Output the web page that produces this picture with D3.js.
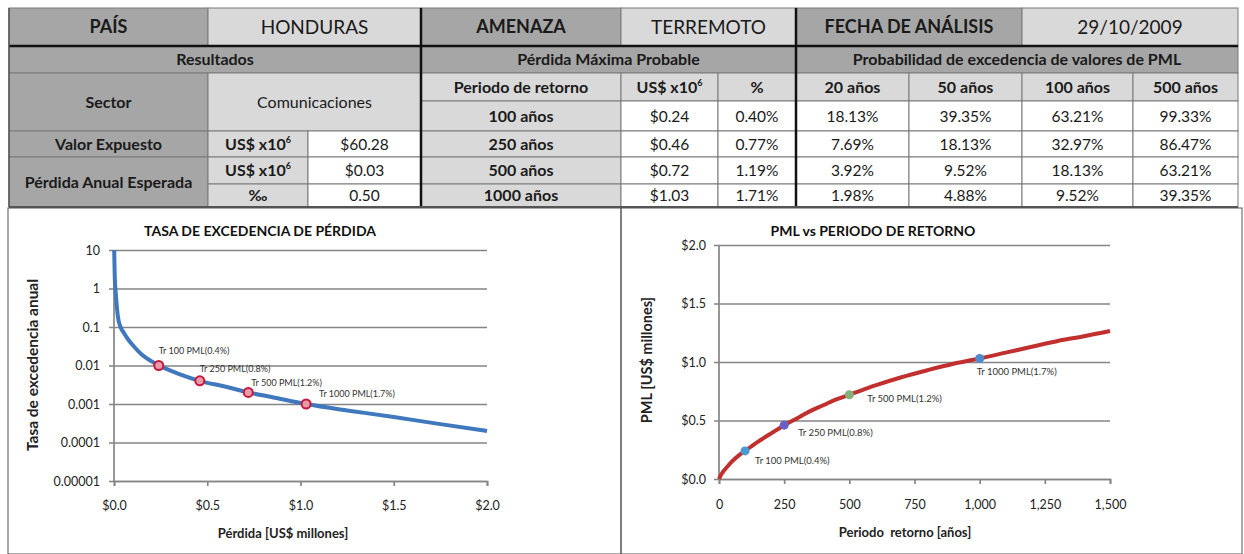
<!DOCTYPE html>
<html>
<head>
<meta charset="utf-8">
<script src="https://cdn.jsdelivr.net/npm/d3@7"></script>
<style>
  html, body { margin: 0; padding: 0; background: #fff; }
  svg { display: block; font-family: Lato, "Open Sans", sans-serif; }
</style>
</head>
<body>
<svg id="chart" width="1244" height="554"></svg>
<script>
// ---------------- DATA ----------------
const country = "HONDURAS";
const hazard = "TERREMOTO";
const analysisDate = "29/10/2009";
const sector = "Comunicaciones";
const exposedValue = "$60.28";
const expectedLoss = "$0.03";
const expectedLossPerMil = "0.50";

const returnPeriods = [100, 250, 500, 1000];
const pmlValues = [0.24, 0.46, 0.72, 1.03];
const pmlPercent = ["0.40%", "0.77%", "1.19%", "1.71%"];
const probYears = [20, 50, 100, 500];
const probMatrix = [
  ["18.13%", "39.35%", "63.21%", "99.33%"],
  ["7.69%", "18.13%", "32.97%", "86.47%"],
  ["3.92%", "9.52%", "18.13%", "63.21%"],
  ["1.98%", "4.88%", "9.52%", "39.35%"]
];

// loss exceedance curve: loss (US$ millions) vs annual exceedance rate
const lecLoss = [0.001, 0.004, 0.01, 0.02, 0.035, 0.05, 0.075, 0.1, 0.15, 0.2, 0.24, 0.3, 0.35, 0.46, 0.6, 0.72, 0.85, 1.03, 1.25, 1.5, 1.75, 2.0];
const lecRate = [10, 2, 0.7, 0.2, 0.1, 0.074, 0.048, 0.034, 0.019, 0.013, 0.01, 0.0075, 0.006, 0.004, 0.0028, 0.002, 0.0015, 0.001, 0.00068, 0.00046, 0.0003, 0.0002];
const lecMarkRate = [0.01, 0.004, 0.002, 0.001];
const markLabels = ["Tr 100 PML(0.4%)", "Tr 250 PML(0.8%)", "Tr 500 PML(1.2%)", "Tr 1000 PML(1.7%)"];

// PML vs return period curve
const curveT = [0, 5, 15, 30, 50, 75, 100, 150, 200, 250, 300, 350, 400, 450, 500, 600, 700, 800, 900, 1000, 1100, 1200, 1300, 1400, 1500];
const curvePML = [0, 0.025, 0.06, 0.1, 0.15, 0.2, 0.24, 0.32, 0.39, 0.46, 0.52, 0.58, 0.63, 0.68, 0.72, 0.80, 0.87, 0.93, 0.985, 1.03, 1.08, 1.13, 1.18, 1.22, 1.265];

const lossTicks = [0, 0.5, 1.0, 1.5, 2.0];
const rateTicks = [10, 1, 0.1, 0.01, 0.001, 0.0001, 0.00001];
const rateTickLabels = ["10", "1", "0.1", "0.01", "0.001", "0.0001", "0.00001"];
const periodTicks = [0, 250, 500, 750, 1000, 1250, 1500];
const pmlTicks = [0, 0.5, 1.0, 1.5, 2.0];

// ---------------- STYLE / LAYOUT ----------------
const DARK = "#a6a6a6", LIGHT = "#d9d9d9", WHITE = "#ffffff";
const markerColors = ["#4a9ad6", "#6660c8", "#86b07a", "#4d8ad0"];
const colX = [9, 208, 308, 421, 621, 718, 796, 909, 1022, 1133, 1238];
const rowY = [8, 46, 73, 101, 131, 157, 184, 207];
const BOLD_SIZE = 16, NORMAL_SIZE = 15.5;

const svg = d3.select("#chart");

// ---------------- TABLE ----------------
const cells = [];
function cell(c0, c1, r0, r1, text, fill, bold, size, sup) {
  cells.push({c0, c1, r0, r1, text, fill, bold, size: size || (bold ? BOLD_SIZE : NORMAL_SIZE), sup});
}
cell(0, 1, 0, 1, "PAÍS", DARK, true, 18);
cell(1, 3, 0, 1, country, LIGHT, false, 19);
cell(3, 4, 0, 1, "AMENAZA", DARK, true, 18);
cell(4, 6, 0, 1, hazard, LIGHT, false, 19);
cell(6, 8, 0, 1, "FECHA DE ANÁLISIS", DARK, true, 18);
cell(8, 10, 0, 1, analysisDate, LIGHT, false, 19);
cell(0, 3, 1, 2, "Resultados", DARK, true);
cell(3, 6, 1, 2, "Pérdida Máxima Probable", DARK, true);
cell(6, 10, 1, 2, "Probabilidad de excedencia de valores de PML", DARK, true);
cell(0, 1, 2, 4, "Sector", DARK, true);
cell(1, 3, 2, 4, sector, LIGHT, false, 16);
cell(3, 4, 2, 3, "Periodo de retorno", LIGHT, true);
cell(4, 5, 2, 3, "US$ x10", LIGHT, true, BOLD_SIZE, "6");
cell(5, 6, 2, 3, "%", LIGHT, true);
probYears.forEach((y, i) => cell(6 + i, 7 + i, 2, 3, y + " años", LIGHT, true));
returnPeriods.forEach((t, i) => {
  cell(3, 4, 3 + i, 4 + i, t + " años", LIGHT, true);
  cell(4, 5, 3 + i, 4 + i, "$" + pmlValues[i].toFixed(2), WHITE, false);
  cell(5, 6, 3 + i, 4 + i, pmlPercent[i], WHITE, false);
  probMatrix[i].forEach((v, j) => cell(6 + j, 7 + j, 3 + i, 4 + i, v, WHITE, false));
});
cell(0, 1, 4, 5, "Valor Expuesto", DARK, true);
cell(1, 2, 4, 5, "US$ x10", LIGHT, true, BOLD_SIZE, "6");
cell(2, 3, 4, 5, exposedValue, WHITE, false);
cell(0, 1, 5, 7, "Pérdida Anual Esperada", DARK, true);
cell(1, 2, 5, 6, "US$ x10", LIGHT, true, BOLD_SIZE, "6");
cell(2, 3, 5, 6, expectedLoss, WHITE, false);
cell(1, 2, 6, 7, "‰", LIGHT, true);
cell(2, 3, 6, 7, expectedLossPerMil, WHITE, false);

const tbl = svg.append("g");
const cg = tbl.selectAll("g.cell").data(cells).join("g");
cg.append("rect")
  .attr("x", d => colX[d.c0]).attr("y", d => rowY[d.r0])
  .attr("width", d => colX[d.c1] - colX[d.c0]).attr("height", d => rowY[d.r1] - rowY[d.r0])
  .attr("fill", d => d.fill).attr("stroke", "#7a7a7a").attr("stroke-width", 1);
const ct = cg.append("text")
  .attr("x", d => (colX[d.c0] + colX[d.c1]) / 2)
  .attr("y", d => (rowY[d.r0] + rowY[d.r1]) / 2 + d.size * 0.36)
  .attr("text-anchor", "middle")
  .attr("font-size", d => d.size)
  .attr("font-weight", d => d.bold ? "bold" : "normal")
  .attr("fill", "#1a1a1a");
ct.append("tspan").text(d => d.text);
ct.filter(d => d.sup).append("tspan").attr("dy", -7).attr("font-size", 9).text(d => d.sup);

// heavy rules
tbl.append("line").attr("x1", colX[0]).attr("x2", colX[10]).attr("y1", rowY[1]).attr("y2", rowY[1])
  .attr("stroke", "#111").attr("stroke-width", 2.5);
[colX[3], colX[6]].forEach(x => tbl.append("line").attr("x1", x).attr("x2", x)
  .attr("y1", rowY[0]).attr("y2", rowY[7]).attr("stroke", "#111").attr("stroke-width", 2.5));
tbl.append("line").attr("x1", colX[0]).attr("x2", colX[10]).attr("y1", rowY[7]).attr("y2", rowY[7])
  .attr("stroke", "#555").attr("stroke-width", 2);
tbl.append("line").attr("x1", colX[0]).attr("x2", colX[0]).attr("y1", rowY[0]).attr("y2", rowY[7])
  .attr("stroke", "#555").attr("stroke-width", 1.5);

// chart panel frames
svg.append("rect").attr("x", 8).attr("y", 208).attr("width", 613).attr("height", 346)
  .attr("fill", "none").attr("stroke", "#555").attr("stroke-width", 1);
svg.append("rect").attr("x", 621).attr("y", 208).attr("width", 621).attr("height", 346)
  .attr("fill", "none").attr("stroke", "#555").attr("stroke-width", 1);

const GRID = "#858585";

// ---------------- LEFT CHART ----------------
{
  const x = d3.scaleLinear().domain([0, 2]).range([114, 487]);
  const y = d3.scaleLog().domain([0.00001, 10]).range([481, 250]);
  const g = svg.append("g");

  g.append("g").attr("transform", "translate(114,0)")
    .call(d3.axisLeft(y).tickValues(rateTicks).tickSize(-373).tickPadding(14)
      .tickFormat((d, i) => rateTickLabels[i]))
    .call(a => a.select(".domain").remove())
    .call(a => a.selectAll(".tick line").attr("stroke", GRID).attr("stroke-width", 1.7).attr("x1", -5))
    .call(a => a.selectAll("text").attr("font-size", 12.5).attr("fill", "#222").attr("font-family", "Lato"));

  g.append("g").attr("transform", "translate(0,481)")
    .call(d3.axisBottom(x).tickValues(lossTicks).tickSize(5).tickPadding(15)
      .tickFormat(d => "$" + d.toFixed(1)))
    .call(a => a.select(".domain").attr("stroke", GRID).attr("stroke-width", 1.7))
    .call(a => a.selectAll(".tick line").attr("stroke", GRID).attr("stroke-width", 1.7))
    .call(a => a.selectAll("text").attr("font-size", 12.5).attr("fill", "#222").attr("font-family", "Lato"));

  g.append("line").attr("x1", 114).attr("x2", 114).attr("y1", 250).attr("y2", 481)
    .attr("stroke", GRID).attr("stroke-width", 1.7);

  const pts = lecLoss.map((l, i) => [l, lecRate[i]]);
  g.append("path").datum(pts)
    .attr("d", d3.line().x(d => x(d[0])).y(d => y(d[1])).curve(d3.curveMonotoneX))
    .attr("fill", "none").attr("stroke", "#3f78bd").attr("stroke-width", 4);

  const labelOff = [[0, -12], [0, -9], [3, -6], [13, -7]];
  pmlValues.forEach((v, i) => {
    g.append("circle").attr("cx", x(v)).attr("cy", y(lecMarkRate[i])).attr("r", 4.5)
      .attr("fill", "#e79aa8").attr("stroke", "#c8173d").attr("stroke-width", 2);
    g.append("text").attr("x", x(v) + labelOff[i][0]).attr("y", y(lecMarkRate[i]) + labelOff[i][1])
      .attr("font-size", 9).attr("fill", "#333").text(markLabels[i]);
  });

  g.append("text").attr("x", 260).attr("y", 236).attr("text-anchor", "middle")
    .attr("font-size", 14).attr("font-weight", "bold").attr("fill", "#111")
    .text("TASA DE EXCEDENCIA DE PÉRDIDA");
  g.append("text").attr("x", 283).attr("y", 538).attr("text-anchor", "middle")
    .attr("font-size", 13).attr("font-weight", "bold").attr("fill", "#222")
    .text("Pérdida [US$ millones]");
  g.append("text").attr("transform", "translate(38,365) rotate(-90)").attr("text-anchor", "middle")
    .attr("font-size", 15.5).attr("font-weight", "bold").attr("fill", "#222")
    .text("Tasa de excedencia anual");
}

// ---------------- RIGHT CHART ----------------
{
  const x = d3.scaleLinear().domain([0, 1500]).range([719, 1110]);
  const y = d3.scaleLinear().domain([0, 2]).range([479, 245]);
  const g = svg.append("g");

  g.append("g").attr("transform", "translate(719,0)")
    .call(d3.axisLeft(y).tickValues(pmlTicks).tickSize(-391).tickPadding(13)
      .tickFormat(d => "$" + d.toFixed(1)))
    .call(a => a.select(".domain").remove())
    .call(a => a.selectAll(".tick line").attr("stroke", GRID).attr("stroke-width", 1.7).attr("x1", -5))
    .call(a => a.selectAll("text").attr("font-size", 12.5).attr("fill", "#222").attr("font-family", "Lato"));

  g.append("g").attr("transform", "translate(0,479)")
    .call(d3.axisBottom(x).tickValues(periodTicks).tickSize(5).tickPadding(16)
      .tickFormat(d3.format(",")))
    .call(a => a.select(".domain").attr("stroke", GRID).attr("stroke-width", 1.7))
    .call(a => a.selectAll(".tick line").attr("stroke", GRID).attr("stroke-width", 1.7))
    .call(a => a.selectAll("text").attr("font-size", 12.5).attr("fill", "#222").attr("font-family", "Lato"));

  g.append("line").attr("x1", 719).attr("x2", 719).attr("y1", 245).attr("y2", 479)
    .attr("stroke", GRID).attr("stroke-width", 1.7);

  const pts = curveT.map((t, i) => [t, curvePML[i]]);
  g.append("path").datum(pts)
    .attr("d", d3.line().x(d => x(d[0])).y(d => y(d[1])).curve(d3.curveMonotoneX))
    .attr("fill", "none").attr("stroke", "#c0302e").attr("stroke-width", 4);

  const labelOff = [[10, 13], [14, 11], [18, 7], [-3, 17]];
  returnPeriods.forEach((t, i) => {
    g.append("circle").attr("cx", x(t)).attr("cy", y(pmlValues[i])).attr("r", 4.5)
      .attr("fill", markerColors[i]);
    g.append("text").attr("x", x(t) + labelOff[i][0]).attr("y", y(pmlValues[i]) + labelOff[i][1])
      .attr("font-size", 9.5).attr("fill", "#333").text(markLabels[i]);
  });

  g.append("text").attr("x", 873).attr("y", 236).attr("text-anchor", "middle")
    .attr("font-size", 14).attr("font-weight", "bold").attr("fill", "#111")
    .text("PML vs PERIODO DE RETORNO");
  g.append("text").attr("x", 905).attr("y", 537).attr("text-anchor", "middle")
    .attr("font-size", 13).attr("font-weight", "bold").attr("fill", "#222")
    .style("white-space", "pre")
    .text("Periodo  retorno [años]");
  g.append("text").attr("transform", "translate(652,360) rotate(-90)").attr("text-anchor", "middle")
    .attr("font-size", 14.5).attr("font-weight", "bold").attr("fill", "#222")
    .text("PML [US$ millones]");
}
</script>
</body>
</html>
